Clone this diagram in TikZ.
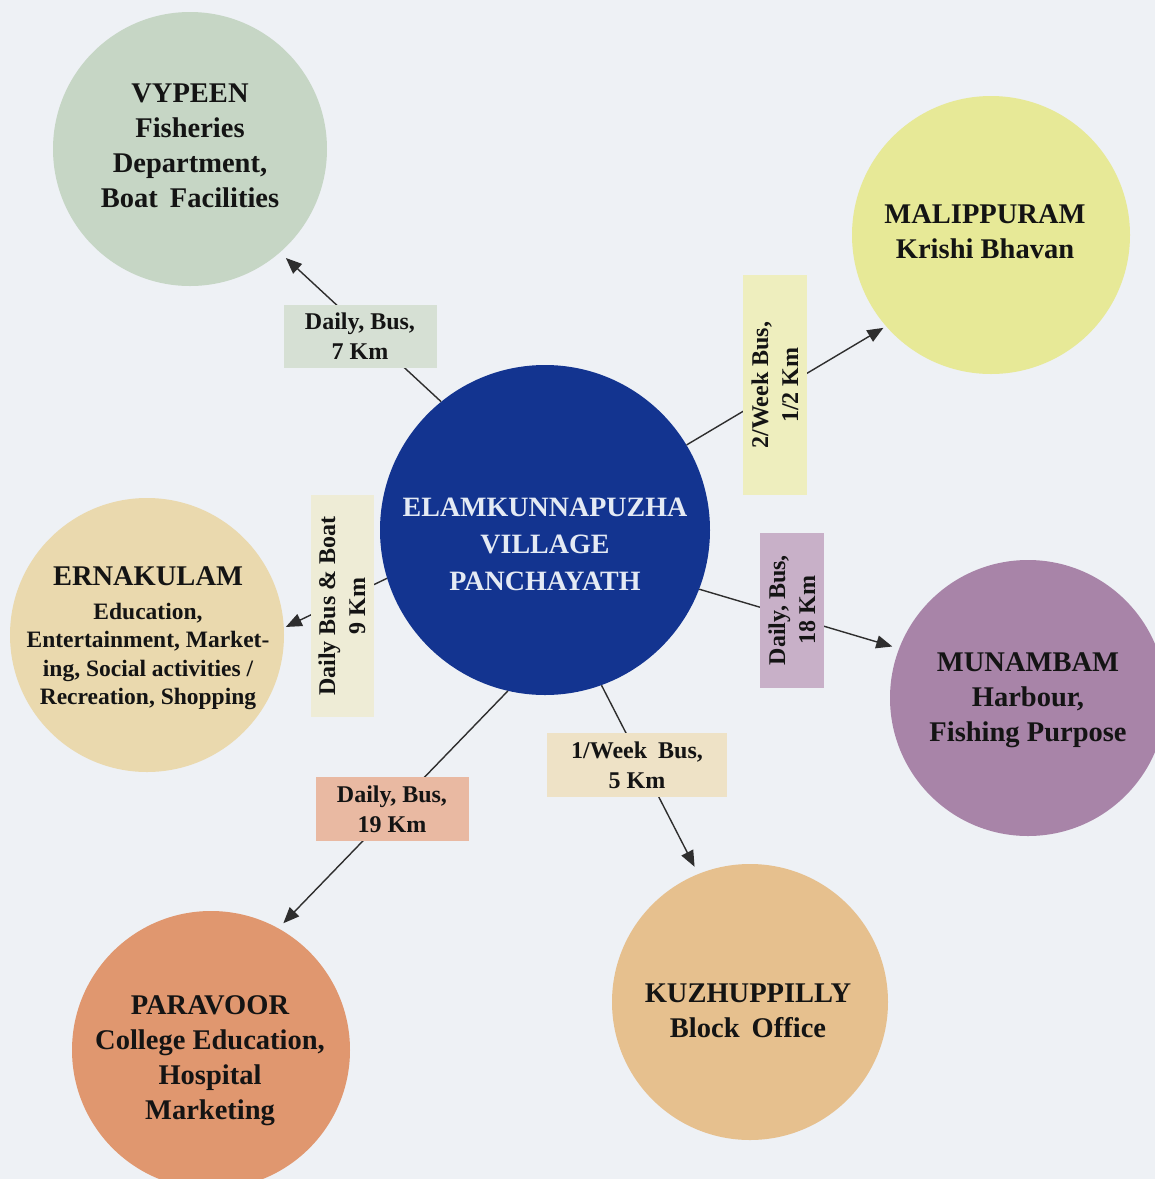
\documentclass[tikz,border=0pt]{standalone}
\usepackage{fontspec}
\setmainfont{Liberation Serif}
\usetikzlibrary{arrows.meta}

% palette
\definecolor{paper}{HTML}{EEF1F5}
\definecolor{ink}{HTML}{141414}
\definecolor{wire}{HTML}{2E2E2E}
\definecolor{hubblue}{HTML}{133490}
\definecolor{hubtext}{HTML}{E4EAF4}
\definecolor{cVy}{HTML}{C6D6C5}
\definecolor{cMa}{HTML}{E7E997}
\definecolor{cEr}{HTML}{EAD9AE}
\definecolor{cMu}{HTML}{A884A8}
\definecolor{cPa}{HTML}{E0976F}
\definecolor{cKu}{HTML}{E6C08E}
\definecolor{tA}{HTML}{D6E0D4}
\definecolor{tB}{HTML}{EEEEBE}
\definecolor{tC}{HTML}{EEECD6}
\definecolor{tD}{HTML}{C8B0C8}
\definecolor{tE}{HTML}{EEE2C6}
\definecolor{tF}{HTML}{E9B9A2}

\begin{document}
\begin{tikzpicture}[x=1pt,y=-1pt,
  place/.style={circle,minimum size=#1,inner sep=0pt,draw=none},
  title/.style={font=\fontsize{28.5}{35}\selectfont\bfseries,align=center,text=ink,inner sep=0pt},
  tag/.style={fill=#1,inner sep=0pt,draw=none,align=center,text=ink,
    font=\fontsize{24}{30}\selectfont\bfseries},
  link/.style={draw=wire,line width=1.4pt,-{Triangle[length=16pt,width=13pt]}}]

% canvas
\useasboundingbox (0,0) rectangle (1155,1179);
\clip (0,0) rectangle (1155,1179);
\fill[paper] (0,0) rectangle (1155,1179);

% places
\node[place=274pt,fill=cVy] (vy) at (190,149) {};
\node[place=278pt,fill=cMa] (ma) at (991,235) {};
\node[place=274pt,fill=cEr] (er) at (147,635) {};
\node[place=276pt,fill=cMu] (mu) at (1028,698) {};
\node[place=278pt,fill=cPa] (pa) at (211,1050) {};
\node[place=276pt,fill=cKu] (ku) at (750,1002) {};
\node[place=330pt,fill=hubblue] (hub) at (545,530) {};

% connectors from the panchayath to each place
\draw[link,shorten >=8pt] (hub.129.7) -- (vy.311.9);
\draw[link,shorten >=3pt] (hub.31.3) -- (ma.221.9);
\draw[link,shorten >=2pt] (hub.197.3) -- (er.3.3);
\draw[link,shorten >=7pt] (hub.339.5) -- (mu.159.4);
\draw[link,shorten >=7pt] (hub.257.4) -- (pa.61.7);
\draw[link,shorten >=8pt] (hub.290.2) -- (ku.112.9);

% travel tags on the connectors
\node[tag=tA,minimum width=153pt,minimum height=63pt] (g1) at (360,336) {Daily, Bus,\\7 Km};
\node[tag=tB,rotate=90,minimum width=220pt,minimum height=64pt] (g2) at (775,385) {2/Week Bus,\\1/2 Km};
\node[tag=tC,rotate=90,minimum width=222pt,minimum height=63pt] (g3) at (342,606) {Daily Bus \& Boat\\9 Km};
\node[tag=tD,rotate=90,minimum width=155pt,minimum height=64pt] (g4) at (792,610) {Daily, Bus,\\18 Km};
\node[tag=tE,minimum width=180pt,minimum height=64pt] (g5) at (637,765) {1/Week\hspace{5pt} Bus,\\5 Km};
\node[tag=tF,minimum width=153pt,minimum height=64pt] (g6) at (392,809) {Daily, Bus,\\19 Km};

% texts in the circles
\node[title,text=hubtext,font=\fontsize{28}{37}\selectfont\bfseries] (hubt) at (545,544)
  {ELAMKUNNAPUZHA\\VILLAGE\\PANCHAYATH};
\node[title] (vyt) at (190,146) {VYPEEN\\Fisheries\\Department,\\Boat\hspace{5pt} Facilities};
\node[title] (mat) at (985,232) {MALIPPURAM\\Krishi Bhavan};
\node[title] (mut) at (1028,700) {MUNAMBAM\\Harbour,\\Fishing Purpose};
\node[title] (pat) at (210,1061) {PARAVOOR\\College Education,\\Hospital\\Marketing};
\node[title] (kut) at (748,1011) {KUZHUPPILLY\\Block\hspace{5pt} Office};
\node[title,font=\fontsize{23.5}{28.5}\selectfont\bfseries] (ert) at (148,638)
  {{\fontsize{28.5}{28.5}\selectfont ERNAKULAM}\\[5.5pt]
   Education,\\Entertainment, Market-\\ing, Social activities /\\Recreation, Shopping};

\end{tikzpicture}
\end{document}
